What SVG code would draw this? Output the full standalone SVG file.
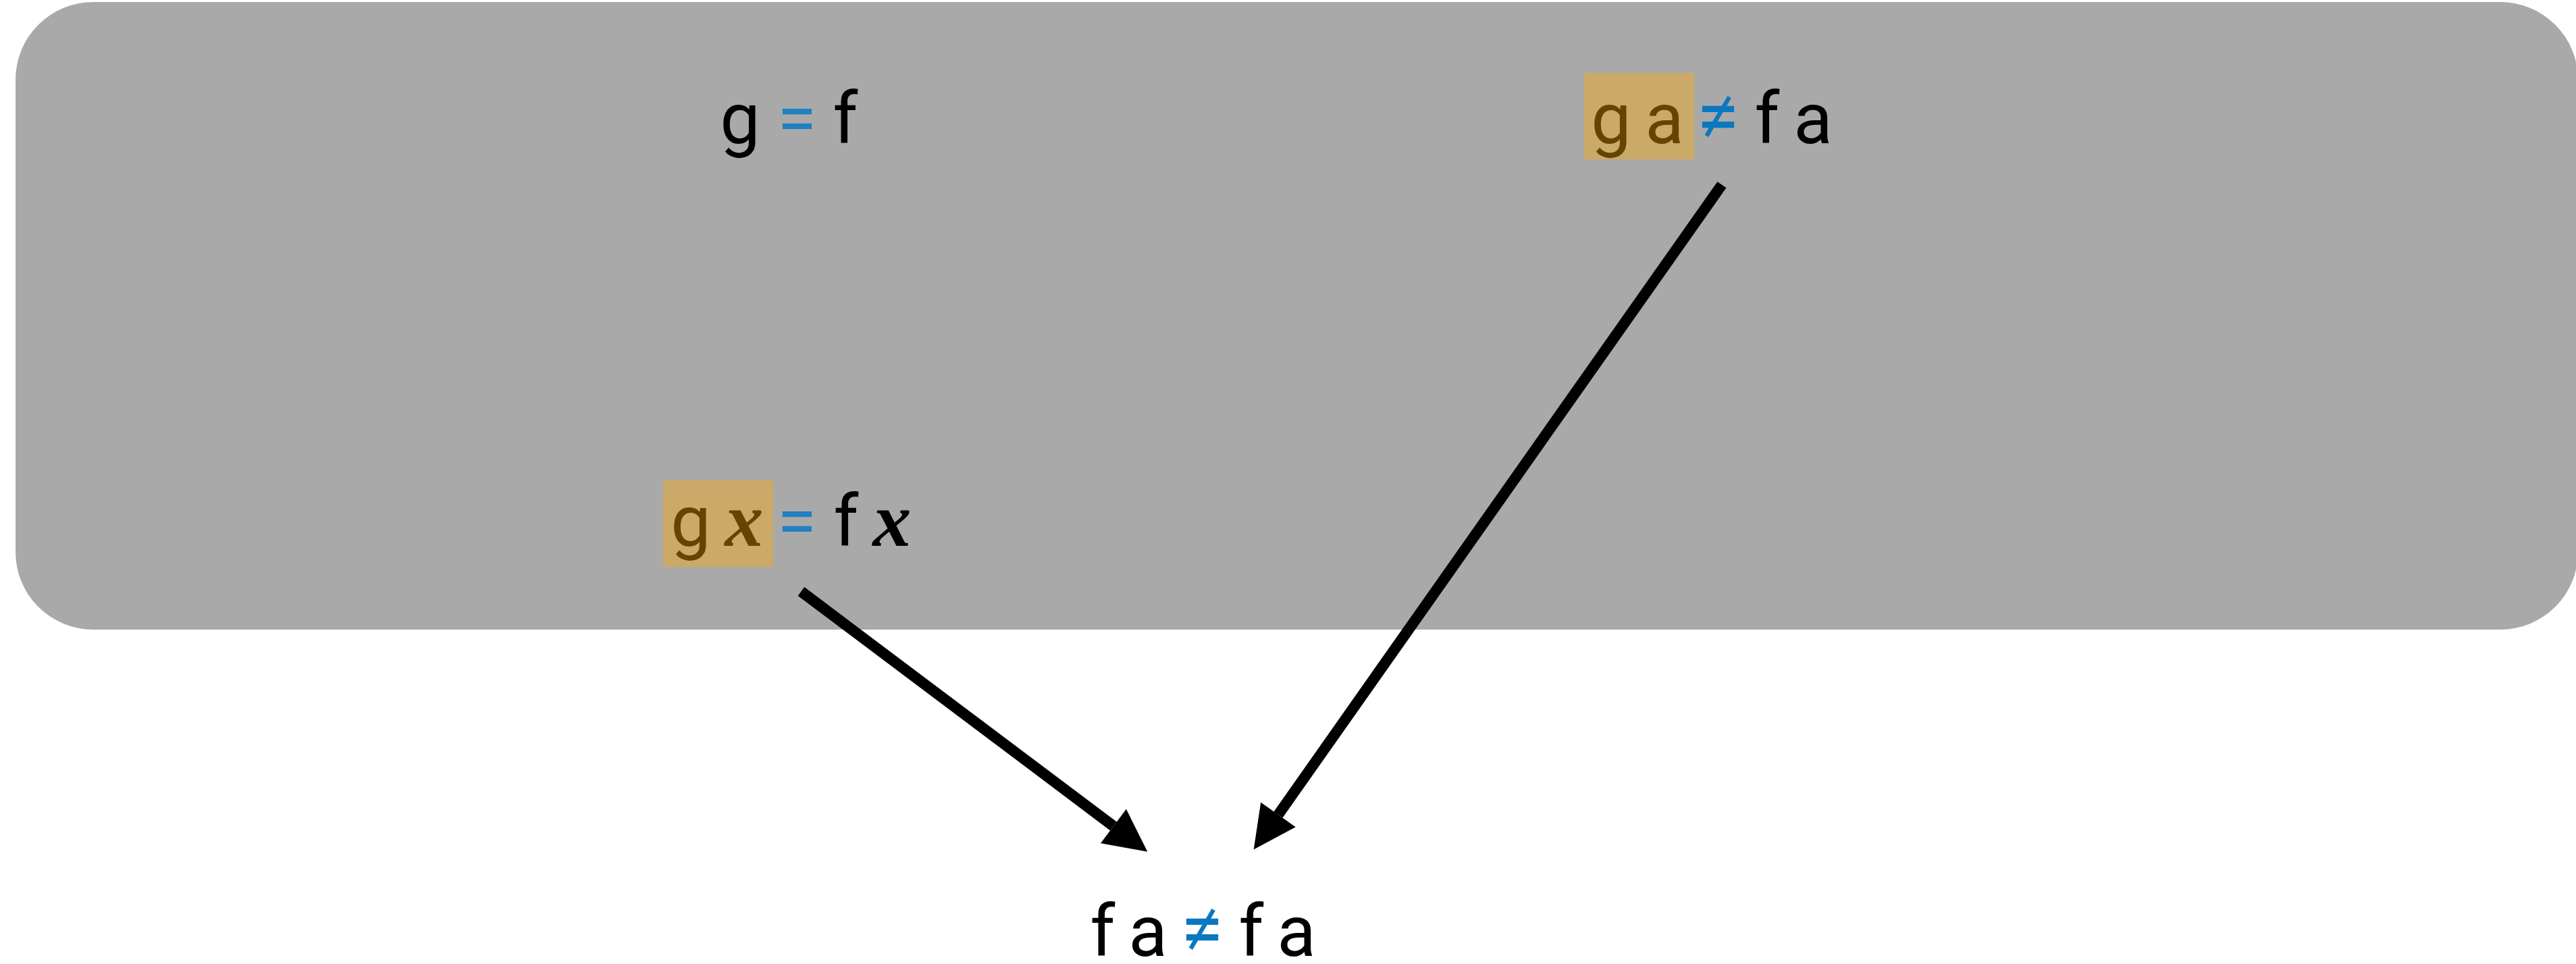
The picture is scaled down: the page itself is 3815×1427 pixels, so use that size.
<svg xmlns="http://www.w3.org/2000/svg" width="3815" height="1427" viewBox="0 0 3815 1427">
<style>
  .t { font-family: Roboto, Inter, "DejaVu Sans", sans-serif; font-size: 106px; fill: #000; text-anchor: middle; }
  .v { font-family: "Liberation Serif", "DejaVu Serif", serif; font-style: italic; font-weight: bold; font-size: 114px; fill: #000; text-anchor: middle; }
  .hl { fill: #cba966; }
  .br { fill: #664400; }
  .eq { fill: #1f80c2; font-size: 106px; }
  .ne { fill: #0a78bf; font-size: 116px; }
  .conn { stroke: #000; stroke-width: 16; fill: none; marker-end: url(#ah); }
</style>
<defs>
  <marker id="ah" markerUnits="userSpaceOnUse" markerWidth="64" markerHeight="64" refX="0" refY="31.5" orient="auto" overflow="visible">
    <path d="M0,0 L63,31.5 L0,63 Z" fill="#000"/>
  </marker>
</defs>
<rect x="23" y="3" width="3795" height="929" rx="115" ry="115" fill="#a9a9a9"/>
<g id="node-g-eq-f">
  <text class="t" x="1096" y="212">g</text>
  <text class="t eq" x="1180" y="212">=</text>
  <text class="t" x="1252" y="212">f</text>
</g>
<g id="node-ga-ne-fa">
  <rect class="hl" x="2346" y="108" width="163" height="128"/>
  <text class="t br" x="2386" y="212">g</text>
  <text class="t br" x="2465" y="212">a</text>
  <text class="t ne" x="2544" y="212">≠</text>
  <text class="t" x="2617" y="212">f</text>
  <text class="t" x="2685" y="212">a</text>
</g>
<g id="node-gx-eq-fx">
  <rect class="hl" x="982" y="711" width="163" height="128"/>
  <text class="t br" x="1023" y="808">g</text>
  <text class="v br" x="1102" y="808">x</text>
  <text class="t eq" x="1180" y="808">=</text>
  <text class="t" x="1253" y="808">f</text>
  <text class="v" x="1321" y="808">x</text>
</g>
<g id="node-fa-ne-fa">
  <text class="t" x="1633" y="1415">f</text>
  <text class="t" x="1700" y="1415">a</text>
  <text class="t ne" x="1780" y="1415">≠</text>
  <text class="t" x="1853" y="1415">f</text>
  <text class="t" x="1920" y="1415">a</text>
</g>
<g id="connectors">
  <line class="conn" x1="1186.5" y1="875.5" x2="1649" y2="1223"/>
  <line class="conn" x1="2550" y1="273.5" x2="1893" y2="1206"/>
</g>
</svg>
